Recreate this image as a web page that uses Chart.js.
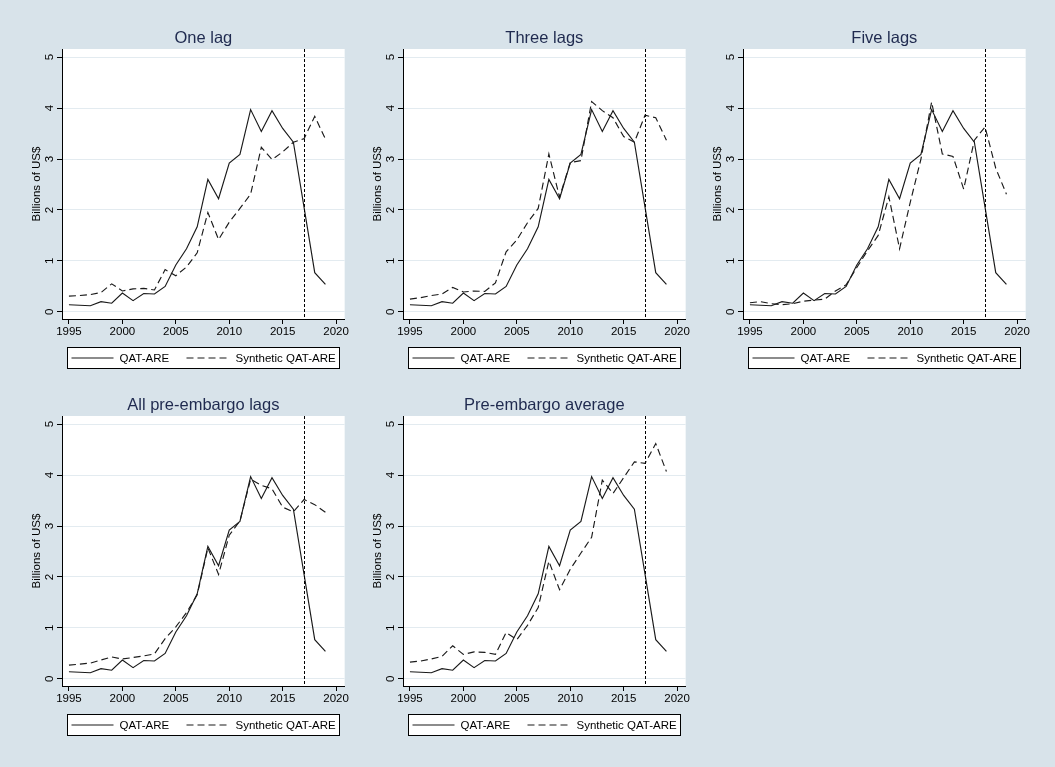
<!DOCTYPE html>
<html>
<head>
<meta charset="utf-8">
<script src="https://cdn.jsdelivr.net/npm/chart.js@4.4.0/dist/chart.umd.min.js"></script>
<style>
html, body { margin: 0; padding: 0; background: #d8e3ea; }
#page { position: relative; width: 1055px; height: 767px; background: #d8e3ea; }
.panel { position: absolute; width: 350px; height: 380px; }
</style>
</head>
<body>
<div id="page">
  <div class="panel" style="left:0px;top:0px"><canvas id="c1" width="350" height="380"></canvas></div>
  <div class="panel" style="left:341px;top:0px"><canvas id="c2" width="350" height="380"></canvas></div>
  <div class="panel" style="left:681px;top:0px"><canvas id="c3" width="350" height="380"></canvas></div>
  <div class="panel" style="left:0px;top:367px"><canvas id="c4" width="350" height="380"></canvas></div>
  <div class="panel" style="left:341px;top:367px"><canvas id="c5" width="350" height="380"></canvas></div>
</div>
<script>
// data (billions of US$)
var years = [1995, 1996, 1997, 1998, 1999, 2000, 2001, 2002, 2003, 2004, 2005, 2006, 2007,
             2008, 2009, 2010, 2011, 2012, 2013, 2014, 2015, 2016, 2017, 2018, 2019];
var qatAre = [0.14, 0.13, 0.12, 0.20, 0.17, 0.37, 0.22, 0.36, 0.35, 0.50, 0.92, 1.24, 1.67,
              2.60, 2.22, 2.92, 3.09, 3.97, 3.54, 3.95, 3.60, 3.33, 2.05, 0.77, 0.54];
var synOneLag = [0.31, 0.32, 0.34, 0.38, 0.55, 0.41, 0.45, 0.46, 0.43, 0.83, 0.71, 0.88, 1.16,
                 1.95, 1.42, 1.76, 2.03, 2.31, 3.23, 2.99, 3.14, 3.33, 3.40, 3.84, 3.39];
var synThreeLags = [0.25, 0.28, 0.32, 0.35, 0.48, 0.39, 0.41, 0.40, 0.57, 1.18, 1.41, 1.75, 2.03,
                    3.10, 2.25, 2.93, 2.97, 4.13, 3.95, 3.81, 3.44, 3.33, 3.86, 3.81, 3.37];
var synFiveLags = [0.18, 0.20, 0.16, 0.14, 0.16, 0.21, 0.23, 0.25, 0.41, 0.53, 0.87, 1.20, 1.50,
                   2.26, 1.24, 2.15, 3.00, 4.12, 3.10, 3.05, 2.41, 3.37, 3.63, 2.82, 2.31];
var synAllLags = [0.27, 0.29, 0.31, 0.37, 0.43, 0.39, 0.42, 0.45, 0.49, 0.79, 1.02, 1.30, 1.65,
                  2.57, 2.05, 2.82, 3.10, 3.92, 3.80, 3.73, 3.37, 3.28, 3.52, 3.42, 3.27];
var synAverage = [0.33, 0.35, 0.39, 0.44, 0.65, 0.48, 0.53, 0.52, 0.48, 0.91, 0.77, 1.05, 1.40,
                  2.31, 1.75, 2.15, 2.47, 2.78, 3.90, 3.64, 3.95, 4.26, 4.23, 4.62, 4.07];

var panelTitles = ["One lag", "Three lags", "Five lags", "All pre-embargo lags", "Pre-embargo average"];
var seriesLabels = ["QAT-ARE", "Synthetic QAT-ARE"];
var xTicks = [1995, 2000, 2005, 2010, 2015, 2020];
var yTicks = [0, 1, 2, 3, 4, 5];
var embargoYear = 2017;

var FONT = "'Liberation Sans', Arial, Helvetica, sans-serif";
var INK = "#1a1a1a";

function pts(vals) {
    return years.map(function (y, i) { return { x: y, y: vals[i] }; });
}

// white plot region, panel title, y tick labels, embargo line and boxed legend
var stataBits = {
    id: "stataBits",
    beforeDraw: function (chart) {
        var a = chart.chartArea, ctx = chart.ctx;
        ctx.save();
        ctx.fillStyle = "#ffffff";
        ctx.fillRect(a.left, a.top, a.right - a.left, a.bottom - a.top);
        ctx.restore();
    },
    afterDatasetsDraw: function (chart) {
        var a = chart.chartArea, ctx = chart.ctx;
        var xs = chart.scales.x;
        var vx = Math.round(xs.getPixelForValue(embargoYear)) + 0.5;
        ctx.save();
        ctx.strokeStyle = "#000";
        ctx.lineWidth = 1;
        ctx.setLineDash([3, 2]);
        ctx.beginPath();
        ctx.moveTo(vx, a.top);
        ctx.lineTo(vx, a.bottom);
        ctx.stroke();
        ctx.restore();
    },
    afterDraw: function (chart) {
        var a = chart.chartArea, ctx = chart.ctx;
        var ys = chart.scales.y;
        ctx.save();
        // title
        ctx.fillStyle = "#1f2a4f";
        ctx.font = "16.5px " + FONT;
        ctx.textAlign = "center";
        ctx.textBaseline = "middle";
        ctx.fillText(chart.options.plugins.panelTitle, (a.left + a.right) / 2, a.top - 11);
        // y tick labels, rotated like Stata's
        ctx.fillStyle = "#000";
        ctx.font = "11.5px " + FONT;
        yTicks.forEach(function (v) {
            ctx.save();
            ctx.translate(a.left - 12, ys.getPixelForValue(v));
            ctx.rotate(-Math.PI / 2);
            ctx.fillText(String(v), 0, 0);
            ctx.restore();
        });
        // legend
        var lx = Math.round(a.left + 5) + 0.5, ly = Math.round(a.bottom + 28) + 0.5;
        var lw = Math.round(a.right - a.left - 11), lh = 21;
        ctx.fillStyle = "#fff";
        ctx.fillRect(lx, ly, lw, lh);
        ctx.strokeStyle = "#000";
        ctx.lineWidth = 1;
        ctx.strokeRect(lx, ly, lw, lh);
        var my = ly + lh / 2;
        ctx.strokeStyle = INK;
        ctx.lineWidth = 1.1;
        ctx.beginPath();
        ctx.moveTo(lx + 4, my);
        ctx.lineTo(lx + 46, my);
        ctx.stroke();
        ctx.setLineDash([7, 4]);
        ctx.beginPath();
        ctx.moveTo(lx + 119, my);
        ctx.lineTo(lx + 163, my);
        ctx.stroke();
        ctx.setLineDash([]);
        ctx.fillStyle = "#000";
        ctx.textAlign = "left";
        ctx.fillText(seriesLabels[0], lx + 52, my + 1);
        ctx.fillText(seriesLabels[1], lx + 168, my + 1);
        ctx.restore();
    }
};

function makePanel(id, title, synth) {
    var ctx = document.getElementById(id).getContext("2d");
    return new Chart(ctx, {
        type: "line",
        data: {
            datasets: [{
                label: seriesLabels[0],
                data: pts(qatAre),
                borderColor: INK,
                borderWidth: 1.15,
                pointRadius: 0,
                fill: false,
                tension: 0
            }, {
                label: seriesLabels[1],
                data: pts(synth),
                borderColor: INK,
                borderWidth: 1.15,
                borderDash: [7, 4],
                pointRadius: 0,
                fill: false,
                tension: 0
            }]
        },
        options: {
            responsive: false,
            animation: false,
            layout: { padding: { left: 0, top: 49, right: 3, bottom: 0 } },
            plugins: {
                legend: { display: false },
                tooltip: { enabled: false },
                panelTitle: title
            },
            scales: {
                x: {
                    type: "linear",
                    min: 1994.35,
                    max: 2020.8,
                    afterBuildTicks: function (s) { s.ticks = xTicks.map(function (v) { return { value: v }; }); },
                    afterFit: function (s) { s.height = 61; },
                    ticks: {
                        color: "#000",
                        font: { family: FONT, size: 11.5 },
                        padding: 1,
                        maxRotation: 0,
                        autoSkip: false,
                        callback: function (v) { return String(v); }
                    },
                    grid: { drawOnChartArea: false, tickLength: 5, tickColor: "#000", tickWidth: 1 },
                    border: { color: "#000", width: 1 }
                },
                y: {
                    min: -0.14,
                    max: 5.16,
                    afterBuildTicks: function (s) { s.ticks = yTicks.map(function (v) { return { value: v }; }); },
                    afterFit: function (s) { s.width = 62; },
                    ticks: { display: false },
                    title: {
                        display: true,
                        text: "Billions of US$",
                        color: "#000",
                        font: { family: FONT, size: 11.5 },
                        padding: { top: 30, bottom: 0 }
                    },
                    grid: { color: "#e3ebf0", lineWidth: 1, tickLength: 5, tickColor: "#000", tickWidth: 1 },
                    border: { color: "#000", width: 1 }
                }
            }
        },
        plugins: [stataBits]
    });
}

makePanel("c1", panelTitles[0], synOneLag);
makePanel("c2", panelTitles[1], synThreeLags);
makePanel("c3", panelTitles[2], synFiveLags);
makePanel("c4", panelTitles[3], synAllLags);
makePanel("c5", panelTitles[4], synAverage);
</script>
</body>
</html>
